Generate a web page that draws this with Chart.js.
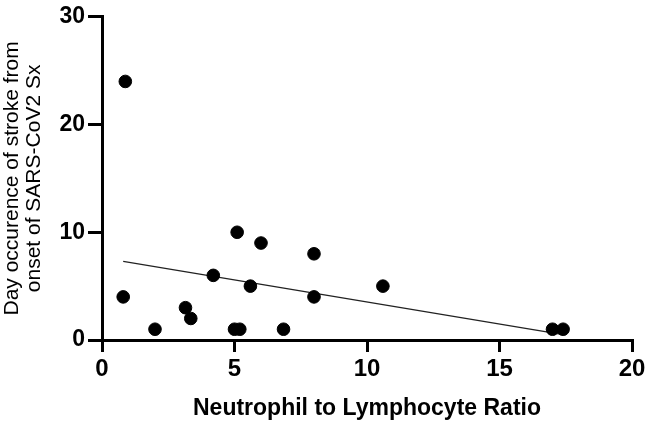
<!DOCTYPE html>
<html>
<head>
<meta charset="utf-8">
<script src="https://cdn.jsdelivr.net/npm/chart.js@4"></script>
<style>
html,body{margin:0;padding:0;background:#fff;}
#wrap{width:653px;height:424px;position:relative;}
</style>
</head>
<body>
<div id="wrap"><canvas id="c"></canvas></div>
<script>
const nlr = [0.88, 0.8, 2.0, 3.15, 3.35, 4.2, 5.1, 5.0, 5.2, 5.6, 6.0, 6.85, 8.0, 8.0, 10.6, 17.0, 17.4];
const dayOnset = [24, 4, 1, 3, 2, 6, 10, 1, 1, 5, 9, 1, 8, 4, 5, 1, 1];
const fitX = [0.8, 17.4];
const fitY = [7.3, 0.5];
const xTicks = [0, 5, 10, 15, 20];
const yTicks = [0, 10, 20, 30];

const pts = nlr.map((x, i) => ({x: x, y: dayOnset[i]}));
const fit = fitX.map((x, i) => ({x: x, y: fitY[i]}));

new Chart(document.getElementById('c'), {
  type: 'scatter',
  data: {
    datasets: [
      {data: fit, type: 'line', borderColor: '#222', borderWidth: 1.2, pointRadius: 0, fill: false, order: 2},
      {data: pts, backgroundColor: '#000', borderColor: '#000', pointRadius: 6.3, pointHoverRadius: 6.3, order: 1}
    ]
  },
  options: {
    responsive: true,
    maintainAspectRatio: false,
    animation: false,
    events: [],
    layout: {padding: {top: 14, right: 21, left: 0, bottom: 0}},
    plugins: {legend: {display: false}, tooltip: {enabled: false}},
    scales: {
      x: {
        type: 'linear', min: 0, max: 20,
        afterBuildTicks: s => { s.ticks = xTicks.map(v => ({value: v})); },
        afterFit: s => { s.height = 84; },
        grid: {display: true, drawOnChartArea: false, drawTicks: true, tickLength: 12, color: '#000', lineWidth: 3},
        border: {display: true, color: '#000', width: 3},
        ticks: {color: '#000', padding: 3, maxRotation: 0, font: {family: 'Liberation Sans, Arial', size: 24, weight: 'bold'}},
        title: {display: true, text: 'Neutrophil to Lymphocyte Ratio', color: '#000', padding: {top: 6, bottom: 2}, font: {family: 'Liberation Sans, Arial', size: 23, weight: 'bold'}}
      },
      y: {
        type: 'linear', min: 0, max: 30,
        afterBuildTicks: s => { s.ticks = yTicks.map(v => ({value: v})); },
        afterFit: s => { s.width = 102; },
        grid: {display: true, drawOnChartArea: false, drawTicks: true, tickLength: 14, color: '#000', lineWidth: 3},
        border: {display: true, color: '#000', width: 3},
        ticks: {color: '#000', padding: 3, font: {family: 'Liberation Sans, Arial', size: 23, weight: 'bold'}},
        title: {display: true, text: ['Day occurence of stroke from', 'onset of SARS-CoV2 Sx'], color: '#000', padding: {top: 1, bottom: 0}, font: {family: 'Liberation Sans, Arial', size: 21, lineHeight: 1.05}}
      }
    }
  }
});
</script>
</body>
</html>
